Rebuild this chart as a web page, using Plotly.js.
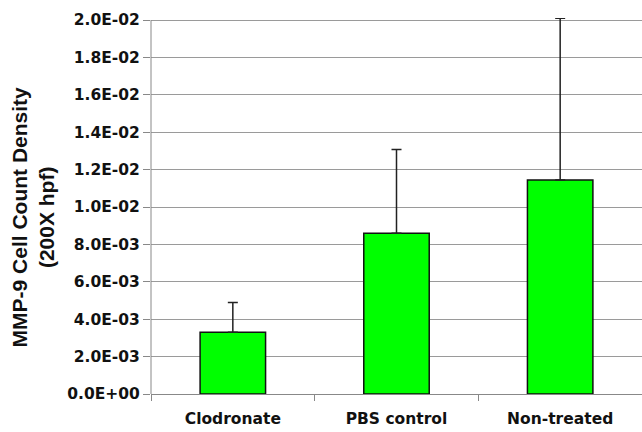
<!DOCTYPE html>
<html>
<head>
<meta charset="utf-8">
<script src="https://cdn.plot.ly/plotly-3.0.1.min.js"></script>
<style>html,body{margin:0;padding:0;background:#fff;}#chart{width:642px;height:432px;}</style>
</head>
<body>
<div id="chart"></div>
<script>
const categories = ["Clodronate", "PBS control", "Non-treated"];
const density = [0.00330, 0.00860, 0.01144];
const errorUp = [0.00159, 0.00448, 0.00865];
const yTickVals = [0, 0.002, 0.004, 0.006, 0.008, 0.010, 0.012, 0.014, 0.016, 0.018, 0.020];
const yTickText = ["0.0E+00", "2.0E-03", "4.0E-03", "6.0E-03", "8.0E-03", "1.0E-02", "1.2E-02", "1.4E-02", "1.6E-02", "1.8E-02", "2.0E-02"];
const yTitle = "MMP-9 Cell Count Density<br>(200X hpf)";

const tickFont = {family: "DejaVu Sans, sans-serif", color: "#111", weight: "bold", size: 15.5};
const titleFont = {family: "Liberation Sans, Arial, sans-serif", color: "#111", weight: "bold", size: 21};

const trace = {
  type: "bar",
  x: categories,
  y: density,
  marker: {color: "#00FF00", line: {color: "#111", width: 1.5}},
  error_y: {type: "data", symmetric: false, array: errorUp, arrayminus: [0, 0, 0], color: "#222", thickness: 1.5, width: 5},
  cliponaxis: false,
  hoverinfo: "none"
};

const layout = {
  width: 642, height: 432,
  margin: {l: 151, r: 0, t: 18, b: 38},
  paper_bgcolor: "#fff", plot_bgcolor: "#fff",
  bargap: 0.6,
  showlegend: false,
  xaxis: {
    type: "category",
    showline: true, linecolor: "#888", linewidth: 1,
    ticks: "outside", tickson: "boundaries", ticklen: 6, tickcolor: "#888",
    tickfont: tickFont, ticklabelstandoff: 10,
    showgrid: false, zeroline: false
  },
  yaxis: {
    range: [0, 0.020107],
    tickvals: yTickVals, ticktext: yTickText,
    showline: false,
    ticks: "outside", ticklen: 7, tickcolor: "#888",
    tickfont: tickFont,
    showgrid: true, gridcolor: "#9a9a9a", gridwidth: 1,
    zeroline: false
  },
  shapes: [{type: "line", xref: "paper", yref: "y", x0: 0, x1: 0, y0: 0, y1: 0.02, line: {color: "#888", width: 1}}],
  annotations: [{
    text: yTitle, textangle: -90, font: titleFont,
    xref: "paper", yref: "paper", x: -0.24, y: 0.47,
    xanchor: "center", yanchor: "middle", showarrow: false
  }]
};

Plotly.newPlot("chart", [trace], layout, {staticPlot: true, displayModeBar: false});
</script>
</body>
</html>
